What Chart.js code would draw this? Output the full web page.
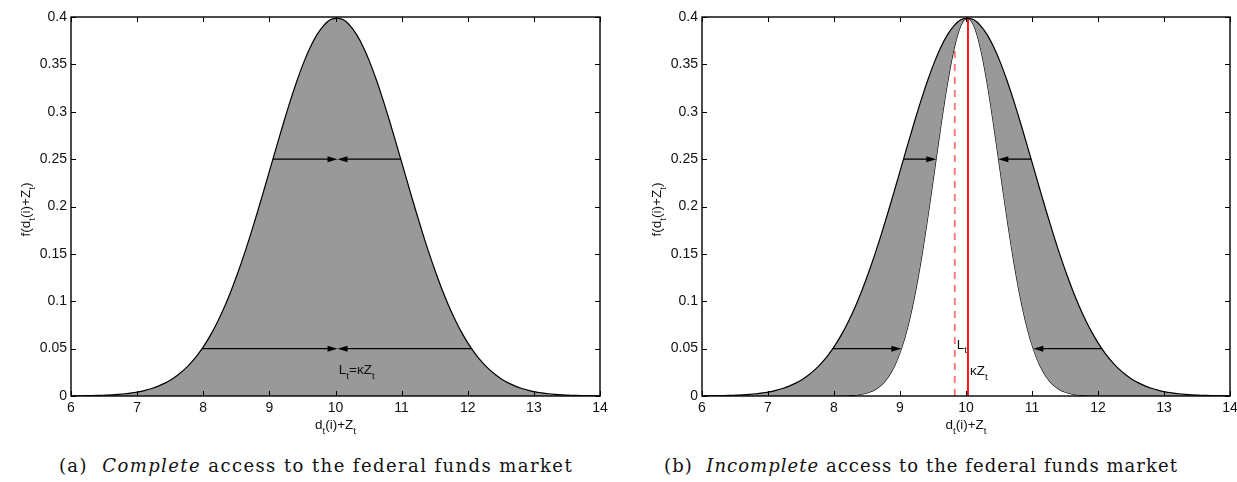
<!DOCTYPE html>
<html>
<head>
<meta charset="utf-8">
<script src="https://cdn.jsdelivr.net/npm/chart.js@4/dist/chart.umd.min.js"></script>
<style>
  html, body { margin: 0; padding: 0; background: #fff; }
  body { width: 1237px; height: 482px; position: relative; overflow: hidden; }
  .wrap { position: absolute; top: 0; height: 440px; }
  .cap { position: absolute; top: 455px; white-space: nowrap; font-family: "DejaVu Serif", "Liberation Serif", serif;
         font-size: 18px; color: #111; }
  .cap i { font-style: italic; }
</style>
</head>
<body>
<div class="wrap" style="left:0;width:615px;"><canvas id="c1" width="615" height="440"></canvas></div>
<div class="wrap" style="left:615px;width:622px;"><canvas id="c2" width="622" height="440"></canvas></div>
<div class="cap" id="capA" data-center="316">(a)&nbsp; <i>Complete</i> access to the federal funds market</div>
<div class="cap" id="capB" data-center="921">(b)&nbsp; <i>Incomplete</i> access to the federal funds market</div>
<script>
// ---------------- data ----------------
const xs = [
  6.02,6.12,6.22,6.32,6.42,6.52,6.62,6.72,6.82,6.92,
  7.02,7.12,7.22,7.32,7.42,7.52,7.62,7.72,7.82,7.92,
  8.02,8.12,8.22,8.32,8.42,8.52,8.62,8.72,8.82,8.92,
  9.02,9.12,9.22,9.32,9.42,9.52,9.62,9.72,9.82,9.92,
  10.02,10.12,10.22,10.32,10.42,10.52,10.62,10.72,10.82,10.92,
  11.02,11.12,11.22,11.32,11.42,11.52,11.62,11.72,11.82,11.92,
  12.02,12.12,12.22,12.32,12.42,12.52,12.62,12.72,12.82,12.92,
  13.02,13.12,13.22,13.32,13.42,13.52,13.62,13.72,13.82,13.92,
  14.02
];
// wide density f(d_t(i)+Z_t)
const wideDensity = [
  0.0001,0.0002,0.0003,0.0004,0.0006,0.0009,0.0012,0.0017,0.0024,0.0033,
  0.0044,0.0060,0.0079,0.0104,0.0136,0.0175,0.0224,0.0283,0.0355,0.0440,
  0.0540,0.0656,0.0790,0.0940,0.1109,0.1295,0.1497,0.1714,0.1942,0.2179,
  0.2420,0.2661,0.2897,0.3123,0.3332,0.3521,0.3683,0.3814,0.3910,0.3970,
  0.3989,
  0.3970,0.3910,0.3814,0.3683,0.3521,0.3332,0.3123,0.2897,0.2661,0.2420,
  0.2179,0.1942,0.1714,0.1497,0.1295,0.1109,0.0940,0.0790,0.0656,0.0540,
  0.0440,0.0355,0.0283,0.0224,0.0175,0.0136,0.0104,0.0079,0.0060,0.0044,
  0.0033,0.0024,0.0017,0.0012,0.0009,0.0006,0.0004,0.0003,0.0002,0.0001
];
// narrow density (panel b)
const narrowDensity = [
  0,0,0,0,0,0,0,0,0,0,
  0,0,0,0,0,0,0,0,0,0,
  0.0001,0.0002,0.0005,0.0010,0.0019,0.0037,0.0067,0.0118,0.0199,0.0321,
  0.0497,0.0738,0.1052,0.1437,0.1884,0.2370,0.2858,0.3307,0.3670,0.3907,
  0.3989,
  0.3907,0.3670,0.3307,0.2858,0.2370,0.1884,0.1437,0.1052,0.0738,0.0497,
  0.0321,0.0199,0.0118,0.0067,0.0037,0.0019,0.0010,0.0005,0.0002,0.0001,
  0,0,0,0,0,0,0,0,0,0,
  0,0,0,0,0,0,0,0,0,0
];
const kappaZ = 10.03;      // kappa Z_t (red solid line)
const kappaZTop = 0.3988;
const Lt = 9.83;           // L_t (red dashed line, panel b)
const LtTop = 0.393;

const xTicks = [6,7,8,9,10,11,12,13,14];
const xTickLabels = ['6','7','8','9','10','11','12','13','14'];
const yTicks = [0,0.05,0.1,0.15,0.2,0.25,0.3,0.35,0.4];
const yTickLabels = ['0','0.05','0.1','0.15','0.2','0.25','0.3','0.35','0.4'];

// arrows: [y, from x, to x (head)]
const arrowsA = [[0.25, 9.05, 10.03],[0.25, 10.99, 10.03],[0.05, 7.98, 10.03],[0.05, 12.06, 10.03]];
const arrowsB = [[0.25, 9.05, 9.55],[0.25, 10.99, 10.49],[0.05, 7.98, 9.02],[0.05, 12.06, 11.02]];

// text annotations: [x, y, parts]
const notesA = [[10.05, 0.023, [['L'],['t',1],['=κZ'],['t',1]]]];
const notesB = [[9.86, 0.05, [['L'],['t',1]]], [10.06, 0.022, [['κZ'],['t',1]]]];

const xTitle = [['d'],['t',1],['(i)+Z'],['t',1]];
const yTitle = [['f(d'],['t',1],['(i)+Z'],['t',1],[')']];

// ---------------- drawing helpers ----------------
const FONT = '"Liberation Sans", Arial, Helvetica, sans-serif';
function richWidth(ctx, parts, size) {
  let w = 0;
  for (const p of parts) {
    ctx.font = (p[1] ? size * 0.72 : size) + 'px ' + FONT;
    w += ctx.measureText(p[0]).width;
  }
  return w;
}
function richText(ctx, parts, x, y, size, align) {
  const w = richWidth(ctx, parts, size);
  let cx = align === 'center' ? x - w / 2 : x;
  ctx.textBaseline = 'alphabetic';
  ctx.textAlign = 'left';
  ctx.fillStyle = '#111';
  for (const p of parts) {
    ctx.font = (p[1] ? size * 0.72 : size) + 'px ' + FONT;
    ctx.fillText(p[0], cx, y + (p[1] ? size * 0.36 : 0));
    cx += ctx.measureText(p[0]).width;
  }
}
function drawArrow(ctx, x1, x2, y) {
  ctx.save();
  ctx.strokeStyle = '#000'; ctx.fillStyle = '#000'; ctx.lineWidth = 1.3;
  const dir = Math.sign(x2 - x1);
  ctx.beginPath(); ctx.moveTo(x1, y); ctx.lineTo(x2 - dir * 6, y); ctx.stroke();
  ctx.beginPath(); ctx.moveTo(x2, y); ctx.lineTo(x2 - dir * 10, y - 3); ctx.lineTo(x2 - dir * 10, y + 3); ctx.closePath(); ctx.fill();
  ctx.restore();
}

function decorPlugin(arrows, notes, yTitleX) {
  return {
    id: 'decor',
    afterDatasetsDraw(chart) {
      const ctx = chart.ctx, a = chart.chartArea, sx = chart.scales.x, sy = chart.scales.y;
      for (const [yv, f, t] of arrows) drawArrow(ctx, sx.getPixelForValue(f), sx.getPixelForValue(t), sy.getPixelForValue(yv));
      for (const [xv, yv, parts] of notes) richText(ctx, parts, sx.getPixelForValue(xv), sy.getPixelForValue(yv), 13.5, 'left');
      ctx.save();
      ctx.strokeStyle = '#000'; ctx.lineWidth = 1.4;
      ctx.strokeRect(a.left, a.top, a.right - a.left, a.bottom - a.top);
      ctx.lineWidth = 1;
      ctx.beginPath();
      for (const v of xTicks) {
        const px = Math.round(sx.getPixelForValue(v)) + 0.5;
        ctx.moveTo(px, a.bottom); ctx.lineTo(px, a.bottom - 5);
        ctx.moveTo(px, a.top); ctx.lineTo(px, a.top + 5);
      }
      for (const v of yTicks) {
        const py = Math.round(sy.getPixelForValue(v)) + 0.5;
        ctx.moveTo(a.left, py); ctx.lineTo(a.left + 5, py);
        ctx.moveTo(a.right, py); ctx.lineTo(a.right - 5, py);
      }
      ctx.stroke();
      ctx.restore();
      richText(ctx, xTitle, sx.getPixelForValue(10), 429, 13.5, 'center');
      ctx.save();
      ctx.translate(yTitleX, (a.top + a.bottom) / 2 + 3);
      ctx.rotate(-Math.PI / 2);
      richText(ctx, yTitle, 0, 5, 13.5, 'center');
      ctx.restore();
    }
  };
}

function baseOptions(yAxisWidth, rightPad) {
  return {
    responsive: false,
    animation: false,
    events: [],
    layout: { padding: { left: 0, right: rightPad, top: 17, bottom: 0 } },
    plugins: { legend: { display: false }, tooltip: { enabled: false } },
    elements: { point: { radius: 0 } },
    scales: {
      x: {
        type: 'linear', min: 6, max: 14,
        grid: { display: false, drawTicks: false }, border: { display: false },
        afterBuildTicks: s => { s.ticks = xTicks.map(v => ({ value: v })); },
        ticks: { padding: 4, color: '#111', font: { size: 14, family: FONT }, maxRotation: 0,
                 callback: (v, i) => xTickLabels[i] },
        afterFit: s => { s.height = 44; s.paddingLeft = 0; s.paddingRight = 0; }
      },
      y: {
        type: 'linear', min: 0, max: 0.4,
        grid: { display: false, drawTicks: false }, border: { display: false },
        afterBuildTicks: s => { s.ticks = yTicks.map(v => ({ value: v })); },
        ticks: { padding: 4, color: '#111', font: { size: 14, family: FONT },
                 callback: (v, i) => yTickLabels[i] },
        afterFit: s => { s.width = yAxisWidth; s.paddingTop = 0; s.paddingBottom = 0; }
      }
    }
  };
}

const pts = arr => xs.map((x, i) => ({ x: x, y: arr[i] }));

new Chart(document.getElementById('c1'), {
  type: 'line',
  data: {
    datasets: [
      { data: pts(wideDensity), borderColor: '#000', borderWidth: 1.2, backgroundColor: '#999999',
        fill: 'origin', cubicInterpolationMode: 'monotone', pointRadius: 0 },
      { data: [{ x: kappaZ, y: 0 }, { x: kappaZ, y: kappaZTop }], borderColor: '#ff0000', borderWidth: 1,
        fill: false, pointRadius: 0 }
    ]
  },
  options: baseOptions(71, 15),
  plugins: [decorPlugin(arrowsA, notesA, 25)]
});

new Chart(document.getElementById('c2'), {
  type: 'line',
  data: {
    datasets: [
      { data: pts(wideDensity), borderColor: '#000', borderWidth: 1.2, backgroundColor: '#999999',
        fill: '+1', cubicInterpolationMode: 'monotone', pointRadius: 0 },
      { data: pts(narrowDensity), borderColor: '#000', borderWidth: 1.2,
        fill: false, cubicInterpolationMode: 'monotone', pointRadius: 0 },
      { data: [{ x: Lt, y: 0 }, { x: Lt, y: LtTop }], borderColor: 'rgba(245,70,70,0.75)', borderWidth: 1.8,
        borderDash: [7, 6], fill: false, pointRadius: 0 },
      { data: [{ x: kappaZ, y: 0 }, { x: kappaZ, y: kappaZTop }], borderColor: '#ff0000', borderWidth: 1.8,
        fill: false, pointRadius: 0 }
    ]
  },
  options: baseOptions(87, 7),
  plugins: [decorPlugin(arrowsB, notesB, 41)]
});

for (const id of ['capA', 'capB']) {
  const el = document.getElementById(id);
  const target = 514;
  const n = el.textContent.length;
  const w = el.getBoundingClientRect().width;
  el.style.letterSpacing = ((target - w) / n).toFixed(2) + 'px';
  const w2 = el.getBoundingClientRect().width;
  el.style.left = (parseFloat(el.dataset.center) - w2 / 2) + 'px';
}
</script>
</body>
</html>
